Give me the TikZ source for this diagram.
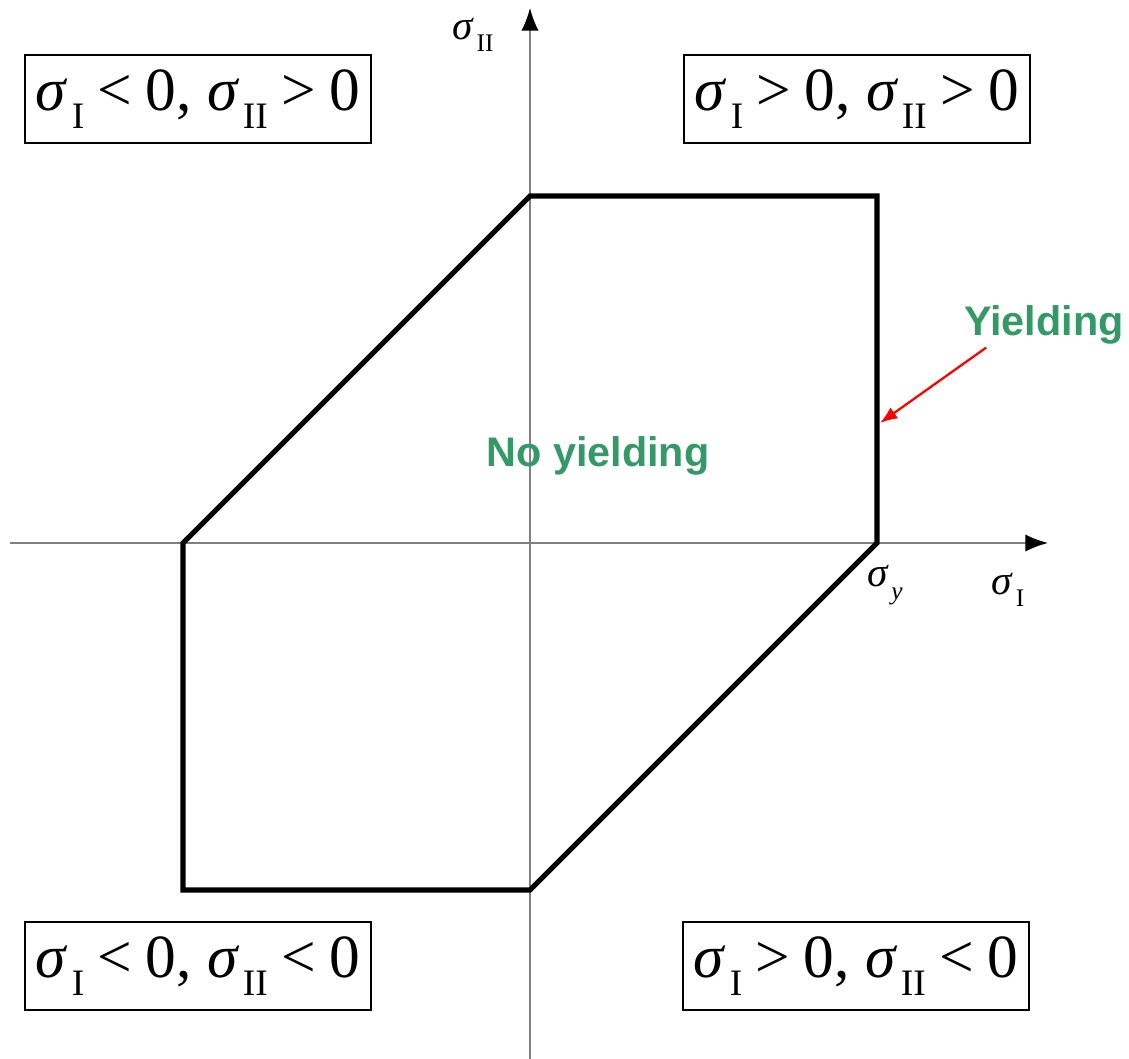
\documentclass[tikz,border=0pt]{standalone}
\usepackage{fontspec}
\usetikzlibrary{arrows.meta, calc}
\setmainfont{Liberation Serif}
\newfontfamily\labelfont{Liberation Sans}
\definecolor{yieldgreen}{RGB}{51,153,102}
% sigma with an upright subscript, optional arg = size of the subscript
\newcommand{\sg}[2][28]{\textit{σ}\kern.06em\raisebox{-.3em}{\fontsize{#1}{#1}\selectfont #2}}
\newcommand{\rel}[1]{\kern.22em#1\kern.22em}

\begin{document}
\begin{tikzpicture}[x=0.75pt, y=0.75pt,
    axis/.style={gray, line width=1.2pt, -{Latex[length=17pt, width=13pt, black]}},
    hexline/.style={line width=3.8pt, line join=miter},
    quadbox/.style={draw, line width=1.4pt, inner sep=0pt, minimum width=259pt, minimum height=66pt,
        font=\fontsize{46}{50}\selectfont},
    greenlabel/.style={text=yieldgreen, inner sep=0pt, font=\labelfont\bfseries\fontsize{31}{34}\selectfont},
    axislabel/.style={inner sep=0pt, font=\fontsize{31}{34}\selectfont},
    redarrow/.style={red, line width=1.7pt, -{Latex[length=13pt, width=10pt]}}
    ]

    % ==========================================
    % PARAMETERS & COORDINATES
    % ==========================================

    \def\a{347} % half size of the hexagon (yield stress)

    \useasboundingbox (-530,-516) rectangle (599,543);

    \coordinate (O) at (0,0);

    % corners of the hexagon
    \coordinate (P1) at (0,\a);
    \coordinate (P2) at (\a,\a);
    \coordinate (P3) at (\a,0);
    \coordinate (P4) at (0,-\a);
    \coordinate (P5) at (-\a,-\a);
    \coordinate (P6) at (-\a,0);

    % axis ends
    \coordinate (X_left)  at (-520,0);
    \coordinate (X_right) at (518,0);
    \coordinate (Y_bot)   at (0,-516);
    \coordinate (Y_top)   at (0,535);

    % ==========================================
    % AXES
    % ==========================================

    \draw[axis] (X_left) -- (X_right);
    \draw[axis] (Y_bot) -- (Y_top);

    \node[axislabel] (sII) at (-57,508) {\sg[19]{II}};
    \node[axislabel] (sI)  at (478,-47) {\sg[19]{I}};
    \node[axislabel] (sy)  at (355,-42) {\sg[19]{\textit{y}}};

    % ==========================================
    % YIELD SURFACE
    % ==========================================

    \draw[hexline] (P1) -- (P2) -- (P3) -- (P4) -- (P5) -- (P6) -- cycle;

    \node[greenlabel] (noyield) at (68,87) {No yielding};
    \node[greenlabel] (yield) at (514,218) {Yielding};

    \coordinate (Y_tip) at (350,120);
    \draw[redarrow] ($(yield.south west)+(22,-3)$) -- (Y_tip);

    % ==========================================
    % QUADRANT SIGNS
    % ==========================================

    \node[quadbox] (q2) at (-332,444) {\sg{I}\rel{<}0, \sg{II}\rel{>}0};
    \node[quadbox] (q1) at (327,444)  {\sg{I}\rel{>}0, \sg{II}\rel{>}0};
    \node[quadbox] (q3) at (-332,-423) {\sg{I}\rel{<}0, \sg{II}\rel{<}0};
    \node[quadbox] (q4) at (326,-423)  {\sg{I}\rel{>}0, \sg{II}\rel{<}0};

\end{tikzpicture}
\end{document}
